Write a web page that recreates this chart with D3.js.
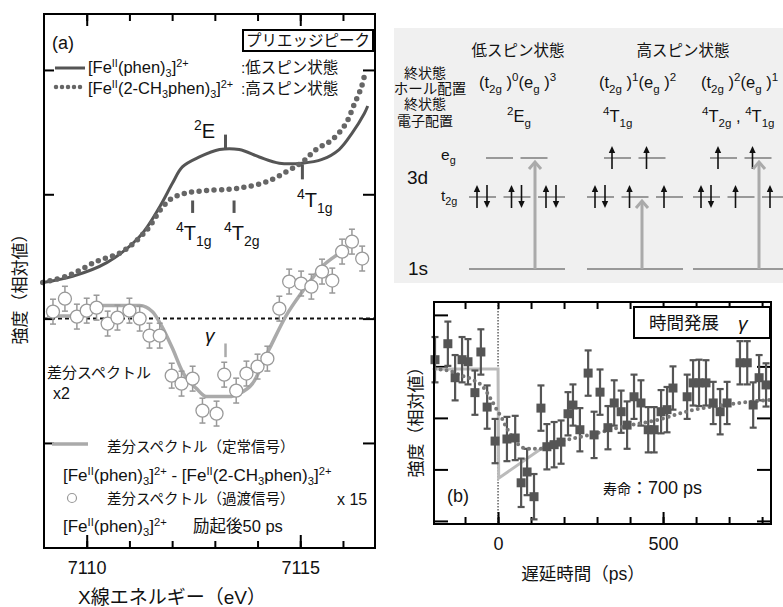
<!DOCTYPE html>
<html><head><meta charset="utf-8">
<script src="https://cdn.jsdelivr.net/npm/d3@7"></script>
<style>
body{margin:0;background:#fff;}
svg text{font-family:"Liberation Sans",Arial,"Noto Sans CJK JP",sans-serif;fill:#111;}
</style></head><body>
<svg id="c" width="783" height="607"></svg>
<script>
// ---------------- DATA ----------------
// Panel (a): pre-edge spectra (arbitrary units)
const energyTicks = [7110, 7111, 7112, 7113, 7114, 7115, 7116];
const energyLabels = [7110, 7115];
const intensityTicks = [0, 1, 2, 3];
const lowSpinE = [7108.97, 7109.67, 7110.47, 7111.24, 7111.71, 7112.01, 7112.24, 7112.64, 7113.11, 7113.57, 7114.04, 7114.51, 7115.05, 7115.51, 7115.91, 7116.21, 7116.50, 7116.58];
const lowSpinI = [1.29, 1.34, 1.45, 1.66, 1.90, 2.09, 2.22, 2.30, 2.36, 2.36, 2.30, 2.25, 2.25, 2.28, 2.36, 2.49, 2.65, 2.71];
const highSpinE = [7108.97, 7109.6, 7110.23, 7110.84, 7111.40, 7111.78, 7112.01, 7112.34, 7112.80, 7113.34, 7113.74, 7114.21, 7114.67, 7115.05, 7115.37, 7115.75, 7116.07, 7116.26, 7116.43, 7116.52];
const highSpinI = [1.29, 1.35, 1.46, 1.54, 1.71, 1.90, 1.97, 2.01, 2.03, 2.04, 2.06, 2.10, 2.18, 2.26, 2.36, 2.44, 2.57, 2.72, 2.86, 2.98];
// static difference spectrum (relative to zero line)
const diffLineE = [7109.07, 7109.9, 7110.30, 7111.24, 7111.54, 7111.75, 7112.01, 7112.24, 7112.57, 7112.80, 7113.34, 7113.57, 7113.88, 7114.28, 7114.67, 7115.05, 7115.51, 7115.91];
const diffLineD = [0.02, 0.02, 0.105, 0.105, 0.056, -0.056, -0.241, -0.426, -0.563, -0.627, -0.627, -0.603, -0.523, -0.241, 0.024, 0.217, 0.418, 0.523];
// transient difference spectrum (circles)
const diffPtE = [7109.21, 7109.49, 7109.77, 7110.00, 7110.23, 7110.49, 7110.72, 7111.00, 7111.24, 7111.47, 7111.71, 7111.99, 7112.22, 7112.48, 7112.71, 7113.04, 7113.22, 7113.50, 7113.74, 7114.00, 7114.23, 7114.51, 7114.74, 7115.02, 7115.26, 7115.51, 7115.75, 7115.98, 7116.21, 7116.45];
const diffPtD = [0.056, 0.16, 0.016, 0.064, 0.088, -0.04, 0.008, 0.064, 0.0, -0.137, -0.137, -0.459, -0.523, -0.483, -0.740, -0.764, -0.451, -0.579, -0.442, -0.386, -0.322, 0.080, 0.298, 0.282, 0.257, 0.378, 0.306, 0.539, 0.619, 0.483];
const diffPtErr = [0.1, 0.1, 0.1, 0.1, 0.1, 0.1, 0.1, 0.1, 0.1, 0.1, 0.1, 0.1, 0.1, 0.1, 0.1, 0.1, 0.1, 0.1, 0.1, 0.1, 0.1, 0.1, 0.1, 0.1, 0.1, 0.1, 0.1, 0.1, 0.1, 0.1];
const diffZero = 1; // zero line of the difference spectrum on the intensity axis
// peak markers
const peakNames = ["^{2}E", "^{4}T_{1g}", "^{4}T_{1g}", "^{4}T_{2g}"];
const peakE = [7113.25, 7115.05, 7112.48, 7113.45];

// Panel (b): time evolution
const delayTicks = [-100, 0, 100, 200, 300, 400, 500, 600, 700, 800];
const delayLabels = [0, 500];
const bTicks = [0, 1, 2, 3, 4];
const delayT = [-191, -152, -130, -109, -91, -70, -52, -33, -9, 27, 52, 70, 88, 109, 130, 148, 170, 191, 212, 227, 248, 273, 291, 309, 333, 352, 373, 391, 412, 433, 455, 473, 494, 512, 530, 573, 591, 609, 630, 652, 673, 694, 733, 755, 773, 791, 812];
const delayV = [3.13, 3.44, 2.78, 3.13, 3.09, 2.49, 3.28, 2.21, 1.55, 1.59, 1.61, 0.74, 0.95, 0.47, 2.19, 1.44, 1.48, 1.53, 2.08, 2.25, 1.77, 2.87, 1.67, 2.50, 1.81, 2.29, 2.12, 1.86, 2.41, 2.29, 1.77, 1.77, 2.12, 2.16, 2.58, 2.41, 2.68, 2.68, 2.68, 2.29, 2.12, 2.29, 3.07, 3.07, 2.25, 2.78, 2.64];
const delayErr = [0.44, 0.43, 0.44, 0.44, 0.44, 0.43, 0.44, 0.42, 0.43, 0.43, 0.43, 0.47, 0.45, 0.44, 0.44, 0.44, 0.44, 0.42, 0.42, 0.40, 0.42, 0.44, 0.45, 0.44, 0.42, 0.44, 0.41, 0.46, 0.43, 0.44, 0.44, 0.44, 0.42, 0.44, 0.42, 0.43, 0.44, 0.45, 0.44, 0.41, 0.44, 0.41, 0.42, 0.42, 0.44, 0.44, 0.42];
const fitT = [-192, -145, -115, -76, -45, -24, -3, 12, 24, 45, 76, 97, 127, 157, 200, 279, 379, 482, 582, 682, 824];
const fitV = [2.95, 2.91, 2.83, 2.74, 2.60, 2.39, 2.15, 1.99, 1.83, 1.61, 1.42, 1.40, 1.40, 1.48, 1.56, 1.67, 1.83, 1.96, 2.14, 2.25, 2.35];
const stepT = [-194, 0, 2, 160];
const stepV = [2.95, 2.95, 0.83, 1.53];

// Energy-level scheme occupancy
const schemeT2g = [["ud", "ud", "ud"], ["ud", "u", "u"], ["ud", "u", "u"]];
const schemeEg = [["", ""], ["u", "u"], ["u", "u"]];
const schemeTarget = [["eg", 1], ["t2g", 1], ["eg", 1]];

// ---------------- HELPERS ----------------
const svg = d3.select("#c");
const JP = '"Noto Sans CJK JP",sans-serif';

function rich(g, str, x, y, fs, opts = {}) {
  const supUp = opts.supUp || 0.42, subDn = opts.subDn || 0.28, ss = opts.ss || 0.7;
  const t = g.append("text").attr("x", x).attr("y", y).attr("font-size", fs);
  if (opts.anchor) t.attr("text-anchor", opts.anchor);
  const re = /\^\{([^}]*)\}|_\{([^}]*)\}|([^^_]+)/g;
  let m, cur = 0;
  while ((m = re.exec(str))) {
    let target, text, size;
    if (m[1] !== undefined) { target = -supUp * fs; text = m[1]; size = ss * fs; }
    else if (m[2] !== undefined) { target = subDn * fs; text = m[2]; size = ss * fs; }
    else { target = 0; text = m[3]; size = fs; }
    t.append("tspan").attr("dy", target - cur).attr("font-size", size).text(text);
    cur = target;
  }
  return t;
}
function jp(g, str, x, y, fs, anchor) {
  return g.append("text").attr("x", x).attr("y", y).attr("font-size", fs)
    .attr("font-family", JP).attr("text-anchor", anchor || "start").text(str);
}
const legOpt = {supUp: 0.38, subDn: 0.22, ss: 0.66};

// ---------------- PANEL (a) ----------------
const A = {l: 44, r: 375, t: 14, b: 548};
const xA = d3.scaleLinear().domain([7109, 7116.75]).range([A.l, A.r]);
const yA = d3.scaleLinear().domain([-0.845, 3.45]).range([A.b, A.t]);
const gA = svg.append("g");

function styleAxis(g) { g.select(".domain").remove(); g.selectAll("line").attr("stroke", "#000").attr("stroke-width", 2); }
gA.append("g").attr("transform", `translate(0,${A.b})`)
  .call(d3.axisBottom(xA).tickValues(energyTicks).tickSize(-7).tickFormat("")).call(styleAxis);
gA.append("g").attr("transform", `translate(0,${A.b})`)
  .call(d3.axisBottom(xA).tickValues(energyLabels).tickSize(-13).tickPadding(13).tickFormat(d3.format("d")))
  .call(styleAxis).selectAll("text").attr("font-size", 18).attr("fill", "#111").attr("font-family", '"Liberation Sans",Arial,sans-serif');
gA.append("g").attr("transform", `translate(0,${A.t})`)
  .call(d3.axisTop(xA).tickValues(energyTicks).tickSize(-7).tickFormat("")).call(styleAxis);
gA.append("g").attr("transform", `translate(0,${A.t})`)
  .call(d3.axisTop(xA).tickValues(energyLabels).tickSize(-12).tickFormat("")).call(styleAxis);
gA.append("g").attr("transform", `translate(${A.l},0)`)
  .call(d3.axisLeft(yA).tickValues(intensityTicks).tickSize(-10).tickFormat("")).call(styleAxis);
gA.append("g").attr("transform", `translate(${A.r},0)`)
  .call(d3.axisRight(yA).tickValues(intensityTicks).tickSize(-12).tickFormat("")).call(styleAxis);

// zero line of difference spectrum
gA.append("line").attr("x1", A.l).attr("x2", A.r).attr("y1", yA(diffZero)).attr("y2", yA(diffZero))
  .attr("stroke", "#111").attr("stroke-width", 2).attr("stroke-dasharray", "4,3");

const lineA = d3.line().x(d => xA(d[0])).y(d => yA(d[1])).curve(d3.curveCatmullRom);
gA.append("path").datum(lowSpinE.map((e, i) => [e, lowSpinI[i]])).attr("d", lineA)
  .attr("fill", "none").attr("stroke", "#555").attr("stroke-width", 3);
gA.append("path").datum(highSpinE.map((e, i) => [e, highSpinI[i]])).attr("d", lineA)
  .attr("fill", "none").attr("stroke", "#666").attr("stroke-width", 5.5)
  .attr("stroke-linecap", "round").attr("stroke-dasharray", "0,7.5");

// static difference line
gA.append("path").datum(diffLineE.map((e, i) => [e, diffLineD[i] + diffZero]))
  .attr("d", d3.line().x(d => xA(d[0])).y(d => yA(d[1])).curve(d3.curveMonotoneX))
  .attr("fill", "none").attr("stroke", "#aaa").attr("stroke-width", 3.5);

// transient difference circles with error bars
const cg = gA.append("g");
diffPtE.forEach((e, i) => {
  const cx = xA(e);
  const yt = yA(diffPtD[i] + diffZero + diffPtErr[i]), yb = yA(diffPtD[i] + diffZero - diffPtErr[i]);
  const g = cg.append("g").attr("stroke", "#999").attr("stroke-width", 1.5);
  g.append("line").attr("x1", cx).attr("x2", cx).attr("y1", yt).attr("y2", yb);
  g.append("line").attr("x1", cx - 3).attr("x2", cx + 3).attr("y1", yt).attr("y2", yt);
  g.append("line").attr("x1", cx - 3).attr("x2", cx + 3).attr("y1", yb).attr("y2", yb);
});
diffPtE.forEach((e, i) => {
  cg.append("circle").attr("cx", xA(e)).attr("cy", yA(diffPtD[i] + diffZero)).attr("r", 6.5)
    .attr("fill", "#fff").attr("stroke", "#999").attr("stroke-width", 1.3);
});

// peak markers
const pm = gA.append("g");
[[0, 2.48, 2.37, 194, 138, 20], [1, 2.24, 2.12, 297, 207, 20], [2, 1.95, 1.85, 176, 240, 20], [3, 1.95, 1.85, 224, 240, 20]].forEach(([i, v1, v2, tx, ty, fs]) => {
  pm.append("line").attr("x1", xA(peakE[i])).attr("x2", xA(peakE[i])).attr("y1", yA(v1)).attr("y2", yA(v2))
    .attr("stroke", "#555").attr("stroke-width", 3);
  rich(pm, peakNames[i], tx, ty, fs);
});
// gamma marker
gA.append("line").attr("x1", xA(7113.25)).attr("x2", xA(7113.25)).attr("y1", yA(diffZero - 0.2)).attr("y2", yA(diffZero - 0.31))
  .attr("stroke", "#aaa").attr("stroke-width", 2.5);
gA.append("text").attr("x", 205).attr("y", 342).attr("font-size", 19).attr("font-style", "italic")
  .attr("font-family", '"DejaVu Serif",serif').text("γ");

// labels inside (a)
gA.append("text").attr("x", 52).attr("y", 49).attr("font-size", 18).text("(a)");
gA.append("rect").attr("x", 243).attr("y", 30).attr("width", 130).attr("height", 21)
  .attr("fill", "#fff").attr("stroke", "#000").attr("stroke-width", 2);
jp(gA, "プリエッジピーク", 308, 46, 15.5, "middle");
gA.append("line").attr("x1", 55).attr("x2", 85).attr("y1", 68).attr("y2", 68).attr("stroke", "#555").attr("stroke-width", 3);
rich(gA, "[Fe^{II}(phen)_{3}]^{2+}", 88, 73, 16.5, legOpt);
jp(gA, ":低スピン状態", 241, 73, 15.5);
gA.append("line").attr("x1", 56).attr("x2", 84).attr("y1", 87).attr("y2", 87).attr("stroke", "#666").attr("stroke-width", 4.5)
  .attr("stroke-linecap", "round").attr("stroke-dasharray", "0,6");
rich(gA, "[Fe^{II}(2-CH_{3}phen)_{3}]^{2+}", 88, 94, 16.5, legOpt);
jp(gA, ":高スピン状態", 241, 94, 15.5);

jp(gA, "差分スペクトル", 47, 378, 15);
gA.append("text").attr("x", 53).attr("y", 399).attr("font-size", 16).text("x2");

// bottom legend
gA.append("line").attr("x1", 52).attr("x2", 88).attr("y1", 444).attr("y2", 444).attr("stroke", "#aaa").attr("stroke-width", 3.5);
jp(gA, "差分スペクトル（定常信号）", 107, 452, 14.5);
rich(gA, "[Fe^{II}(phen)_{3}]^{2+}  -  [Fe^{II}(2-CH_{3}phen)_{3}]^{2+}", 63, 481, 17, legOpt);
gA.append("circle").attr("cx", 72).attr("cy", 498).attr("r", 4.5).attr("fill", "#fff").attr("stroke", "#999").attr("stroke-width", 1.2);
jp(gA, "差分スペクトル（過渡信号）", 107, 504, 14.5);
gA.append("text").attr("x", 337).attr("y", 505).attr("font-size", 16).text("x 15");
rich(gA, "[Fe^{II}(phen)_{3}]^{2+}", 63, 532, 17, legOpt);
jp(gA, "励起後50 ps", 193, 532, 16.5);

gA.append("rect").attr("x", A.l).attr("y", A.t).attr("width", A.r - A.l).attr("height", A.b - A.t)
  .attr("fill", "none").attr("stroke", "#000").attr("stroke-width", 2);

jp(svg, "X線エネルギー（eV）", 172, 604, 19, "middle");
svg.append("text").attr("transform", "translate(26,285) rotate(-90)").attr("font-size", 17)
  .attr("font-family", JP).attr("text-anchor", "middle").text("強度（相対値）");

// ---------------- ENERGY LEVEL SCHEME ----------------
const gS = svg.append("g");
gS.append("rect").attr("x", 394).attr("y", 28).attr("width", 389).attr("height", 255).attr("fill", "#f0f0f0");
jp(gS, "低スピン状態", 518, 56, 15.5, "middle");
jp(gS, "高スピン状態", 683, 56, 15.5, "middle");
jp(gS, "終状態", 425, 78, 14, "middle");
jp(gS, "ホール配置", 430, 94, 14.5, "middle");
jp(gS, "終状態", 425, 109, 14, "middle");
jp(gS, "電子配置", 425, 126, 14, "middle");
rich(gS, "(t_{2g} )^{0}(e_{g} )^{3}", 479, 88, 16.5);
rich(gS, "(t_{2g} )^{1}(e_{g} )^{2}", 599, 88, 16.5);
rich(gS, "(t_{2g} )^{2}(e_{g} )^{1}", 701, 88, 16.5);
rich(gS, "^{2}E_{g}", 507, 122, 16.5);
rich(gS, "^{4}T_{1g}", 603, 122, 16.5);
rich(gS, "^{4}T_{2g} , ^{4}T_{1g}", 702, 122, 16.5);
rich(gS, "e_{g}", 441, 160, 15.5);
gS.append("text").attr("x", 407).attr("y", 184).attr("font-size", 19).text("3d");
rich(gS, "t_{2g}", 441, 201, 15.5);
gS.append("text").attr("x", 408).attr("y", 275).attr("font-size", 19).text("1s");

const groupX = [469, 587, 693];
const orbW = 27, orbStep = 34.5, egOff = 17;
const yEg = 158, yT2g = 197, y1s = 269;
function eArrow(x, yl, dir) {
  const top = yl - 12, bot = yl + 11;
  gS.append("line").attr("x1", x).attr("x2", x).attr("y1", dir === "u" ? top + 5 : top).attr("y2", dir === "u" ? bot : bot - 5)
    .attr("stroke", "#111").attr("stroke-width", 1.6);
  const pts = dir === "u" ? [[x, top], [x - 3.2, top + 7], [x + 3.2, top + 7]] : [[x, bot], [x - 3.2, bot - 7], [x + 3.2, bot - 7]];
  gS.append("path").attr("d", "M" + pts.join("L") + "Z").attr("fill", "#111");
}
groupX.forEach((gx, k) => {
  gS.append("line").attr("x1", gx).attr("x2", gx + 96).attr("y1", y1s).attr("y2", y1s).attr("stroke", "#999").attr("stroke-width", 2);
  schemeT2g[k].forEach((occ, i) => {
    const ox = gx + i * orbStep;
    gS.append("line").attr("x1", ox).attr("x2", ox + orbW).attr("y1", yT2g).attr("y2", yT2g).attr("stroke", "#999").attr("stroke-width", 2);
    if (occ.includes("u")) eArrow(ox + 8, yT2g, "u");
    if (occ.includes("d")) eArrow(ox + 18, yT2g, "d");
  });
  schemeEg[k].forEach((occ, i) => {
    const ox = gx + egOff + i * orbStep;
    gS.append("line").attr("x1", ox).attr("x2", ox + orbW).attr("y1", yEg).attr("y2", yEg).attr("stroke", "#999").attr("stroke-width", 2);
    if (occ.includes("u")) eArrow(ox + 8, yEg, "u");
  });
  const [lvl, idx] = schemeTarget[k];
  const ax = lvl === "eg" ? gx + egOff + idx * orbStep + 14.5 : gx + idx * orbStep + 20.5;
  const ay = (lvl === "eg" ? yEg : yT2g) + 4;
  gS.append("line").attr("x1", ax).attr("x2", ax).attr("y1", y1s).attr("y2", ay + 1).attr("stroke", "#aaa").attr("stroke-width", 3);
  gS.append("path").attr("d", `M${ax - 6},${ay + 7}L${ax},${ay}L${ax + 6},${ay + 7}`).attr("fill", "none").attr("stroke", "#aaa").attr("stroke-width", 3);
});

// ---------------- PANEL (b) ----------------
const B = {l: 434, r: 771, t: 302, b: 524};
const xB = d3.scaleLinear().domain([-194, 827]).range([B.l, B.r]);
const yB = d3.scaleLinear().domain([-0.06, 4.25]).range([B.b, B.t]);
const gB = svg.append("g");
gB.append("g").attr("transform", `translate(0,${B.b})`)
  .call(d3.axisBottom(xB).tickValues(delayTicks).tickSize(-7).tickFormat("")).call(styleAxis);
gB.append("g").attr("transform", `translate(0,${B.b})`)
  .call(d3.axisBottom(xB).tickValues(delayLabels).tickSize(-12).tickPadding(13).tickFormat(d3.format("d")))
  .call(styleAxis).selectAll("text").attr("font-size", 18).attr("fill", "#111").attr("font-family", '"Liberation Sans",Arial,sans-serif');
gB.append("g").attr("transform", `translate(0,${B.t})`)
  .call(d3.axisTop(xB).tickValues(delayTicks).tickSize(-7).tickFormat("")).call(styleAxis);
gB.append("g").attr("transform", `translate(${B.l},0)`)
  .call(d3.axisLeft(yB).tickValues(bTicks).tickSize(-14).tickFormat("")).call(styleAxis);
gB.append("g").attr("transform", `translate(${B.r},0)`)
  .call(d3.axisRight(yB).tickValues(bTicks).tickSize(-14).tickFormat("")).call(styleAxis);

gB.append("line").attr("x1", xB(0)).attr("x2", xB(0)).attr("y1", B.t).attr("y2", B.b)
  .attr("stroke", "#111").attr("stroke-width", 1).attr("stroke-dasharray", "1.5,1.5");

gB.append("path").datum(stepT.map((t, i) => [t, stepV[i]]))
  .attr("d", d3.line().x(d => xB(d[0])).y(d => yB(d[1])))
  .attr("fill", "none").attr("stroke", "#bbb").attr("stroke-width", 3);

const eb = gB.append("g").attr("stroke", "#555").attr("stroke-width", 2.2);
delayT.forEach((t, i) => {
  const x = xB(t), yt = yB(delayV[i] + delayErr[i]), yb = yB(delayV[i] - delayErr[i]);
  eb.append("line").attr("x1", x).attr("x2", x).attr("y1", yt).attr("y2", yb);
  eb.append("line").attr("x1", x - 3.5).attr("x2", x + 3.5).attr("y1", yt).attr("y2", yt);
  eb.append("line").attr("x1", x - 3.5).attr("x2", x + 3.5).attr("y1", yb).attr("y2", yb);
});
gB.append("path").datum(fitT.map((t, i) => [t, fitV[i]]))
  .attr("d", d3.line().x(d => xB(d[0])).y(d => yB(d[1])).curve(d3.curveMonotoneX))
  .attr("fill", "none").attr("stroke", "#777").attr("stroke-width", 4)
  .attr("stroke-linecap", "round").attr("stroke-dasharray", "0,6");
gB.append("g").selectAll("rect").data(delayT).join("rect")
  .attr("x", (t) => xB(t) - 4.5).attr("y", (t, i) => yB(delayV[i]) - 4.5).attr("width", 9).attr("height", 9).attr("fill", "#555");

gB.append("rect").attr("x", 634).attr("y", 307).attr("width", 136).attr("height", 31)
  .attr("fill", "#fff").attr("stroke", "#000").attr("stroke-width", 2);
jp(gB, "時間発展", 684, 329, 17.5, "middle");
gB.append("text").attr("x", 738).attr("y", 330).attr("font-size", 19).attr("font-style", "italic")
  .attr("font-family", '"DejaVu Serif",serif').text("γ");
gB.append("text").attr("x", 447).attr("y", 502).attr("font-size", 18).text("(b)");
const life = gB.append("text").attr("x", 603).attr("y", 494).attr("font-family", JP).attr("font-size", 14);
life.append("tspan").text("寿命");
life.append("tspan").attr("font-size", 17).text("：");
life.append("tspan").attr("font-size", 18).attr("font-family", '"Liberation Sans",Arial,sans-serif').text("700 ps");

gB.append("rect").attr("x", B.l).attr("y", B.t).attr("width", B.r - B.l).attr("height", B.b - B.t)
  .attr("fill", "none").attr("stroke", "#000").attr("stroke-width", 2);

jp(svg, "遅延時間（ps）", 583, 580, 17.5, "middle");
svg.append("text").attr("transform", "translate(422,418) rotate(-90)").attr("font-size", 17)
  .attr("font-family", JP).attr("text-anchor", "middle").text("強度（相対値）");
</script>
</body></html>
